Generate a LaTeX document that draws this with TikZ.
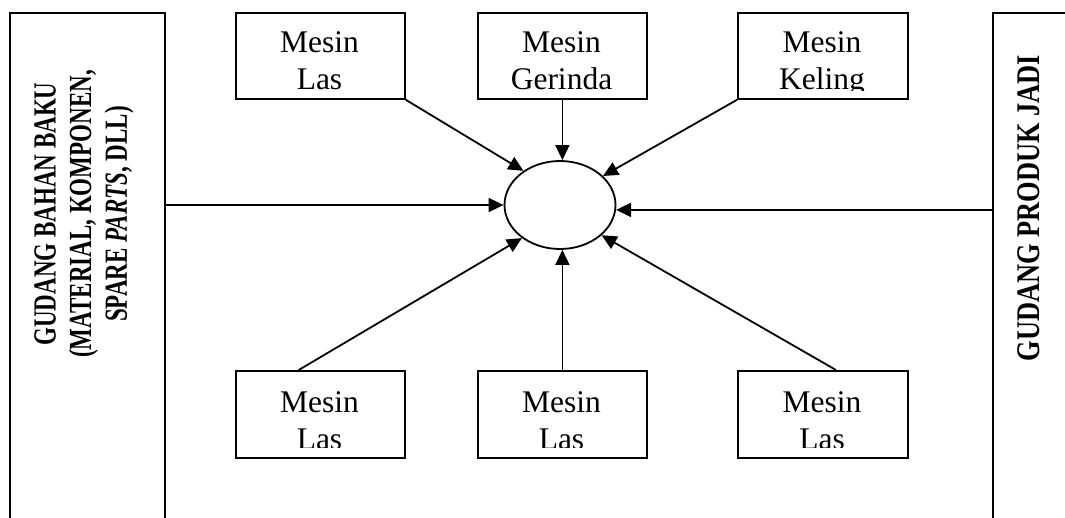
\documentclass[tikz,border=0pt]{standalone}
\usepackage{fontspec}
\setmainfont{Liberation Serif}
\usetikzlibrary{arrows.meta,shapes.geometric,calc}
\begin{document}
\begin{tikzpicture}[x=1pt,y=-1pt,line width=1.8pt,
  mbox/.style={draw,rectangle,anchor=north west,minimum width=169pt,minimum height=86pt,inner sep=0pt},
  lbl/.style={font=\fontsize{31.5}{36.5}\selectfont,align=center,inner sep=0pt,anchor=base},
  side/.style={draw,rectangle,anchor=north west,inner sep=0pt},
  arr/.style={-{Triangle[length=15pt,width=14pt]}},
]
\useasboundingbox (0,0) rectangle (1065,517);
\clip (0,0) rectangle (1065,517);
% warehouses
\node[side,minimum width=155pt,minimum height=530pt] (L) at (9,12) {};
\node[side,minimum width=100pt,minimum height=530pt] (R) at (992,12) {};
\node[rotate=90,yscale=1.4,align=center,inner sep=0pt,font=\bfseries\fontsize{23}{25.5}\selectfont] (Lt) at (84,214)
  {GUDANG BAHAN BAKU\\(MATERIAL, KOMPONEN,\\SPARE \textit{PARTS}, DLL)};
\node[rotate=90,yscale=1.25,inner sep=0pt,font=\bfseries\fontsize{26.4}{30}\selectfont] (Rt) at (1029,208)
  {GUDANG PRODUK JADI};
% machine boxes
\node[mbox] (b1) at (235,12) {};
\node[mbox] (b2) at (477,12) {};
\node[mbox,minimum width=170pt] (b3) at (737,12) {};
\node[mbox,minimum height=87pt] (b4) at (235,370) {};
\node[mbox,minimum height=87pt] (b5) at (477,370) {};
\node[mbox,minimum width=170pt,minimum height=87pt] (b6) at (737,370) {};
\begin{scope}
  \clip (0,0) rectangle (1065,90);
  \node[lbl] (t1) at (319.5,89) {Mesin\\Las};
  \node[lbl] (t2) at (561.5,89) {Mesin\\Gerinda};
  \node[lbl] (t3) at (822,89) {Mesin\\Keling};
\end{scope}
\begin{scope}
  \clip (0,360) rectangle (1065,447);
  \node[lbl] (t4) at (319.5,449) {Mesin\\Las};
  \node[lbl] (t5) at (561.5,449) {Mesin\\Las};
  \node[lbl] (t6) at (822,449) {Mesin\\Las};
\end{scope}
% centre
\node[draw,ellipse,minimum width=111pt,minimum height=88pt,inner sep=0pt] (c) at (560,205) {};
% connectors
\draw[arr] (c.west -| L.east) -- (c.west);
\draw[arr] (c.-5 -| R.west) -- (c.-5);
\draw[arr] (b1.south east) -- (c.137);
\draw[arr] (b2.south) -- (b2.south |- c.north);
\draw[arr] (b3.south west) -- (c.34);
\draw[arr] ($(b4.north west)!0.373!(b4.north east)$) -- (c.221);
\draw[arr] (b5.north) -- (b5.north |- c.south);
\draw[arr] ($(b6.north west)!0.576!(b6.north east)$) -- (c.324);
\end{tikzpicture}
\end{document}
